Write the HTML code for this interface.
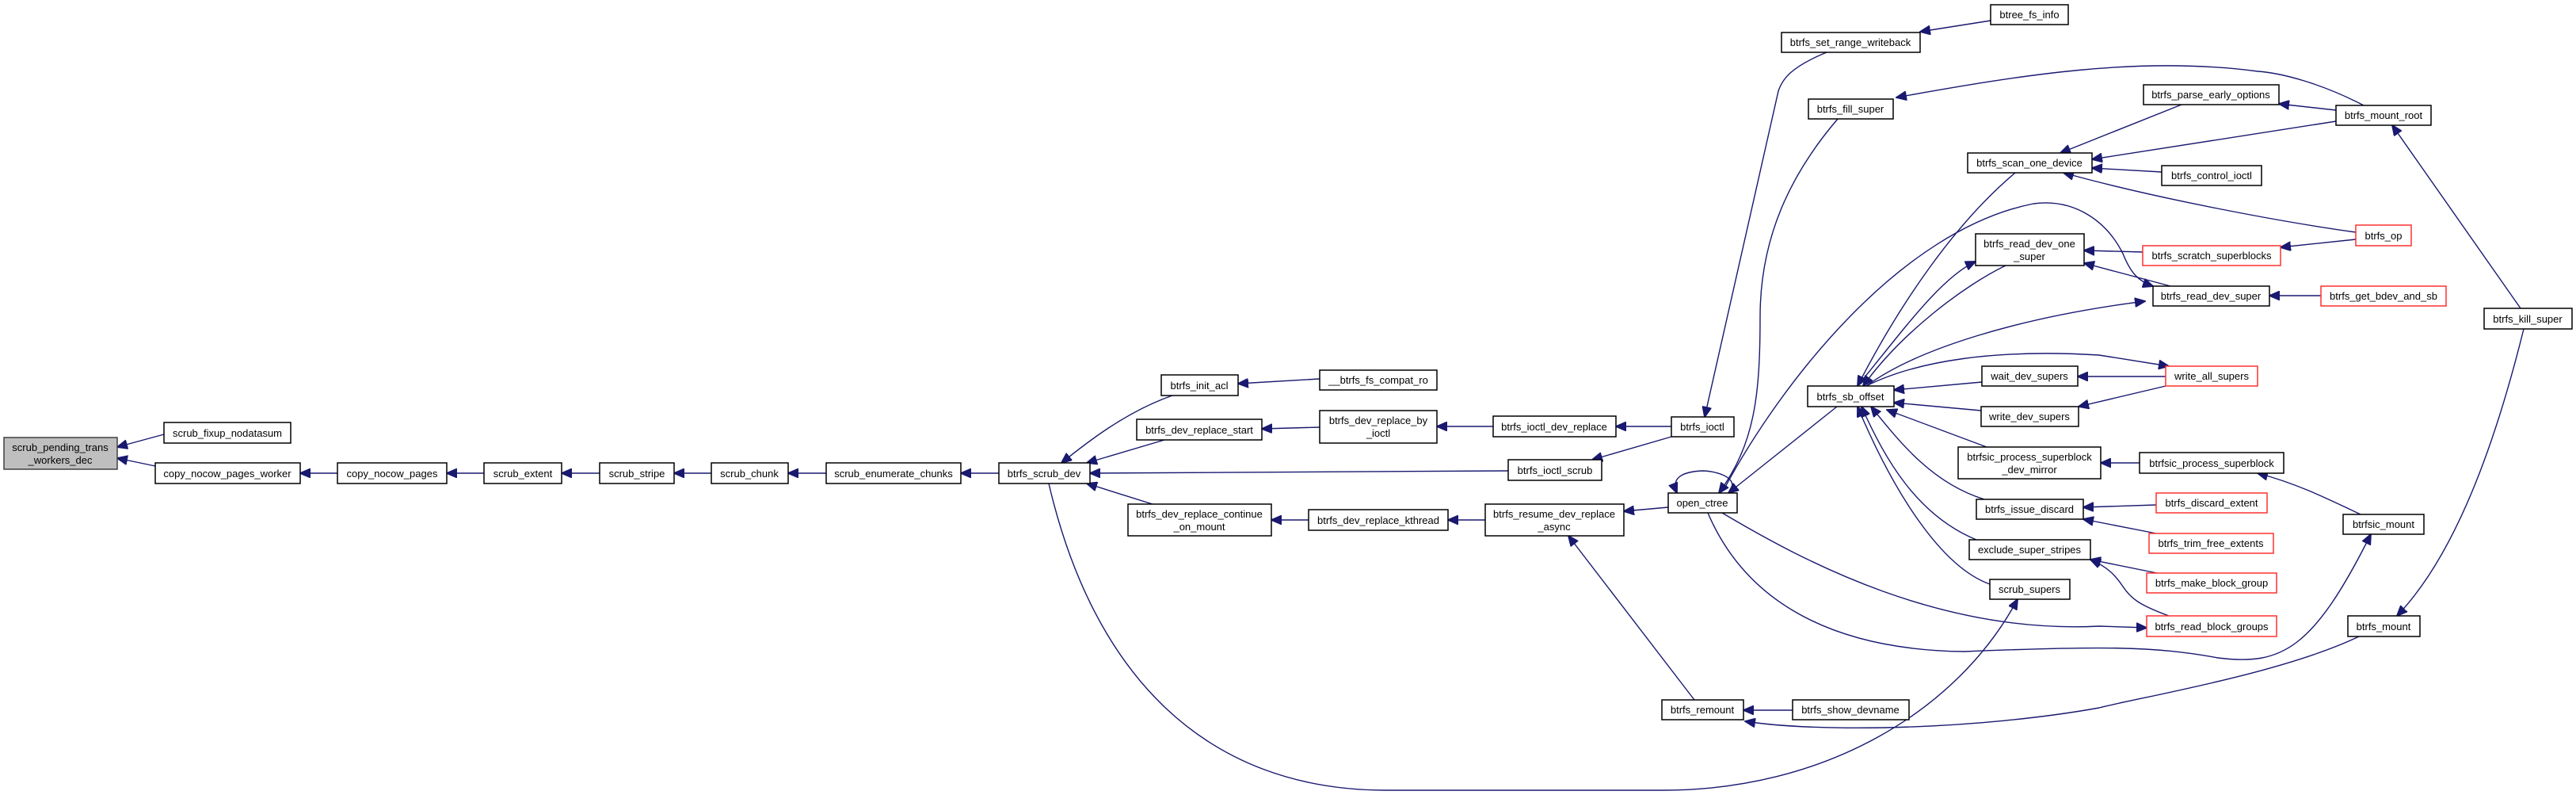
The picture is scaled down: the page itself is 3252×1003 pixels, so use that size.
<!DOCTYPE html>
<html><head><meta charset="utf-8"><style>
html,body{margin:0;padding:0;background:#fff;}
svg{display:block;}
text{font-family:"Liberation Sans",sans-serif;font-size:13px;fill:#000;}
rect{fill:#fff;stroke:#000;stroke-width:1.5;}
rect.r{stroke:#ff3030;}
rect.g{fill:#bfbfbf;stroke:#404040;}
path{fill:none;stroke:#191970;stroke-width:1.4;}
</style></head><body>
<svg width="3252" height="1003" viewBox="0 0 3252 1003" xmlns="http://www.w3.org/2000/svg">
<defs><marker id="a" markerUnits="userSpaceOnUse" markerWidth="14" markerHeight="12" refX="13" refY="6" orient="auto"><polygon points="0,0 14,6 0,12" fill="#191970" stroke="#191970"/></marker></defs>
<g marker-end="url(#a)">
<path d="M207,548 L148,564"/>
<path d="M196,588 L148,578"/>
<path d="M426,597 L379,597"/>
<path d="M611,597 L564,597"/>
<path d="M757,597 L709,597"/>
<path d="M898,597 L851,597"/>
<path d="M1043,597 L995,597"/>
<path d="M1261,597 L1213,597"/>
<path d="M1480,499 C1420,520 1370,560 1340,584"/>
<path d="M1666,478 L1563,484"/>
<path d="M1470,555 L1372,584"/>
<path d="M1666,539 L1593,541"/>
<path d="M1885,538 L1814,538"/>
<path d="M2110,538 L2040,538"/>
<path d="M1904,594 L1376,597"/>
<path d="M2110,551 L2010,580"/>
<path d="M1455,636 L1372,610"/>
<path d="M1652,656 L1605,656"/>
<path d="M1875,656 L1828,656"/>
<path d="M2106,640 L2050,645"/>
<path d="M2139,883 L1980,676"/>
<path d="M1324,610 C1380,850 1520,997 1750,997 L2100,997 C2300,997 2470,900 2547,756"/>
<path d="M2306,66 C2260,85 2250,100 2245,115 L2152,526"/>
<path d="M2513,26 L2424,40"/>
<path d="M2320,150 C2260,220 2222,300 2222,400 C2222,500 2215,560 2170,622"/>
<path d="M2984,133 C2930,105 2880,92 2850,90 C2700,70 2550,95 2394,123"/>
<path d="M2754,132 L2601,193"/>
<path d="M2949,139 L2877,131"/>
<path d="M2949,153 L2641,201"/>
<path d="M2729,217 L2641,212"/>
<path d="M2974,293 C2880,280 2720,250 2605,218"/>
<path d="M2974,302 L2879,312"/>
<path d="M2705,318 L2631,316"/>
<path d="M2740,361 L2631,332"/>
<path d="M2930,373 L2865,373"/>
<path d="M2176,618 C2250,480 2400,290 2567,257 C2620,250 2660,280 2680,320 C2690,345 2700,355 2718,361"/>
<path d="M2345,487 C2400,420 2450,350 2494,330"/>
<path d="M2532,335 C2480,360 2400,420 2352,487"/>
<path d="M2544,218 C2470,280 2400,380 2345,487"/>
<path d="M2356,487 C2420,440 2550,400 2708,380"/>
<path d="M2356,487 C2420,455 2520,440 2650,448 L2738,462"/>
<path d="M2734,475 L2623,475"/>
<path d="M2734,487 L2624,513"/>
<path d="M2502,482 L2391,492"/>
<path d="M2501,518 L2391,508"/>
<path d="M2508,564 L2382,517"/>
<path d="M2701,584 L2652,584"/>
<path d="M2980,649 C2940,630 2900,610 2850,597"/>
<path d="M2505,630 C2440,610 2400,560 2362,513"/>
<path d="M2722,637 L2630,640"/>
<path d="M2722,673 L2630,655"/>
<path d="M2495,681 C2420,650 2380,580 2350,513"/>
<path d="M2723,723 L2639,706"/>
<path d="M2738,777 C2700,763 2690,755 2680,740 C2670,725 2660,715 2639,706"/>
<path d="M2512,737 C2450,715 2390,620 2345,513"/>
<path d="M2319,513 L2182,622"/>
<path d="M2174,647 C2280,710 2450,800 2650,790 L2710,792"/>
<path d="M2156,647 C2200,750 2300,820 2480,822 C2650,815 2720,815 2800,830 C2880,840 2920,820 2993,674"/>
<path d="M2978,803 C2880,850 2700,880 2650,893 C2500,920 2300,925 2203,910"/>
<path d="M3182,389 L3020,158"/>
<path d="M3186,415 C3150,560 3100,700 3026,777"/>
<path d="M2263,896 L2201,896"/>
<path d="M2185,618 C2195,600 2160,594 2150,594 C2120,595 2110,605 2117,622"/>
</g>
<g>
<rect class="g" x="5" y="552" width="143" height="40"/><text x="76" y="569" text-anchor="middle">scrub_pending_trans</text><text x="76" y="585" text-anchor="middle">_workers_dec</text>
<rect x="207" y="533" width="160" height="26"/><text x="287" y="551" text-anchor="middle">scrub_fixup_nodatasum</text>
<rect x="196" y="584" width="183" height="26"/><text x="287" y="602" text-anchor="middle">copy_nocow_pages_worker</text>
<rect x="426" y="584" width="138" height="26"/><text x="495" y="602" text-anchor="middle">copy_nocow_pages</text>
<rect x="611" y="584" width="98" height="26"/><text x="660" y="602" text-anchor="middle">scrub_extent</text>
<rect x="757" y="584" width="94" height="26"/><text x="804" y="602" text-anchor="middle">scrub_stripe</text>
<rect x="898" y="584" width="97" height="26"/><text x="946" y="602" text-anchor="middle">scrub_chunk</text>
<rect x="1043" y="584" width="170" height="26"/><text x="1128" y="602" text-anchor="middle">scrub_enumerate_chunks</text>
<rect x="1261" y="584" width="115" height="26"/><text x="1318" y="602" text-anchor="middle">btrfs_scrub_dev</text>
<rect x="1466" y="473" width="97" height="26"/><text x="1514" y="491" text-anchor="middle">btrfs_init_acl</text>
<rect x="1666" y="467" width="148" height="25"/><text x="1740" y="484" text-anchor="middle">__btrfs_fs_compat_ro</text>
<rect x="1435" y="529" width="158" height="26"/><text x="1514" y="547" text-anchor="middle">btrfs_dev_replace_start</text>
<rect x="1666" y="518" width="148" height="41"/><text x="1740" y="535" text-anchor="middle">btrfs_dev_replace_by</text><text x="1740" y="551" text-anchor="middle">_ioctl</text>
<rect x="1885" y="525" width="155" height="26"/><text x="1962" y="543" text-anchor="middle">btrfs_ioctl_dev_replace</text>
<rect x="2110" y="526" width="79" height="25"/><text x="2149" y="543" text-anchor="middle">btrfs_ioctl</text>
<rect x="1904" y="580" width="118" height="26"/><text x="1963" y="598" text-anchor="middle">btrfs_ioctl_scrub</text>
<rect x="1424" y="636" width="181" height="40"/><text x="1514" y="653" text-anchor="middle">btrfs_dev_replace_continue</text><text x="1514" y="669" text-anchor="middle">_on_mount</text>
<rect x="1652" y="643" width="176" height="26"/><text x="1740" y="661" text-anchor="middle">btrfs_dev_replace_kthread</text>
<rect x="1875" y="636" width="175" height="40"/><text x="1962" y="653" text-anchor="middle">btrfs_resume_dev_replace</text><text x="1962" y="669" text-anchor="middle">_async</text>
<rect x="2106" y="622" width="87" height="25"/><text x="2149" y="639" text-anchor="middle">open_ctree</text>
<rect x="2098" y="883" width="103" height="25"/><text x="2149" y="900" text-anchor="middle">btrfs_remount</text>
<rect x="2263" y="883" width="147" height="25"/><text x="2336" y="900" text-anchor="middle">btrfs_show_devname</text>
<rect x="2249" y="41" width="175" height="25"/><text x="2336" y="58" text-anchor="middle">btrfs_set_range_writeback</text>
<rect x="2513" y="6" width="98" height="25"/><text x="2562" y="23" text-anchor="middle">btree_fs_info</text>
<rect x="2283" y="125" width="107" height="25"/><text x="2336" y="142" text-anchor="middle">btrfs_fill_super</text>
<rect x="2282" y="487" width="109" height="26"/><text x="2336" y="505" text-anchor="middle">btrfs_sb_offset</text>
<rect x="2484" y="193" width="157" height="25"/><text x="2562" y="210" text-anchor="middle">btrfs_scan_one_device</text>
<rect x="2494" y="295" width="137" height="40"/><text x="2562" y="312" text-anchor="middle">btrfs_read_dev_one</text><text x="2562" y="328" text-anchor="middle">_super</text>
<rect x="2502" y="462" width="121" height="25"/><text x="2562" y="479" text-anchor="middle">wait_dev_supers</text>
<rect x="2501" y="513" width="123" height="25"/><text x="2562" y="530" text-anchor="middle">write_dev_supers</text>
<rect x="2472" y="564" width="180" height="40"/><text x="2562" y="581" text-anchor="middle">btrfsic_process_superblock</text><text x="2562" y="597" text-anchor="middle">_dev_mirror</text>
<rect x="2495" y="630" width="135" height="25"/><text x="2562" y="647" text-anchor="middle">btrfs_issue_discard</text>
<rect x="2486" y="681" width="153" height="25"/><text x="2562" y="698" text-anchor="middle">exclude_super_stripes</text>
<rect x="2512" y="731" width="101" height="25"/><text x="2562" y="748" text-anchor="middle">scrub_supers</text>
<rect x="2706" y="107" width="171" height="25"/><text x="2791" y="124" text-anchor="middle">btrfs_parse_early_options</text>
<rect x="2949" y="133" width="120" height="25"/><text x="3009" y="150" text-anchor="middle">btrfs_mount_root</text>
<rect x="2729" y="209" width="126" height="25"/><text x="2792" y="226" text-anchor="middle">btrfs_control_ioctl</text>
<rect class="r" x="2974" y="284" width="70" height="26"/><text x="3009" y="302" text-anchor="middle">btrfs_op</text>
<rect class="r" x="2705" y="310" width="174" height="25"/><text x="2792" y="327" text-anchor="middle">btrfs_scratch_superblocks</text>
<rect x="2718" y="361" width="147" height="25"/><text x="2791" y="378" text-anchor="middle">btrfs_read_dev_super</text>
<rect class="r" x="2930" y="361" width="158" height="25"/><text x="3009" y="378" text-anchor="middle">btrfs_get_bdev_and_sb</text>
<rect x="3136" y="389" width="111" height="26"/><text x="3191" y="407" text-anchor="middle">btrfs_kill_super</text>
<rect class="r" x="2734" y="462" width="116" height="25"/><text x="2792" y="479" text-anchor="middle">write_all_supers</text>
<rect x="2701" y="571" width="182" height="26"/><text x="2792" y="589" text-anchor="middle">btrfsic_process_superblock</text>
<rect class="r" x="2722" y="622" width="140" height="25"/><text x="2792" y="639" text-anchor="middle">btrfs_discard_extent</text>
<rect class="r" x="2713" y="673" width="157" height="25"/><text x="2791" y="690" text-anchor="middle">btrfs_trim_free_extents</text>
<rect class="r" x="2710" y="723" width="164" height="25"/><text x="2792" y="740" text-anchor="middle">btrfs_make_block_group</text>
<rect class="r" x="2710" y="777" width="164" height="26"/><text x="2792" y="795" text-anchor="middle">btrfs_read_block_groups</text>
<rect x="2958" y="649" width="102" height="25"/><text x="3009" y="666" text-anchor="middle">btrfsic_mount</text>
<rect x="2964" y="777" width="91" height="26"/><text x="3009" y="795" text-anchor="middle">btrfs_mount</text>
</g>
</svg>
</body></html>
